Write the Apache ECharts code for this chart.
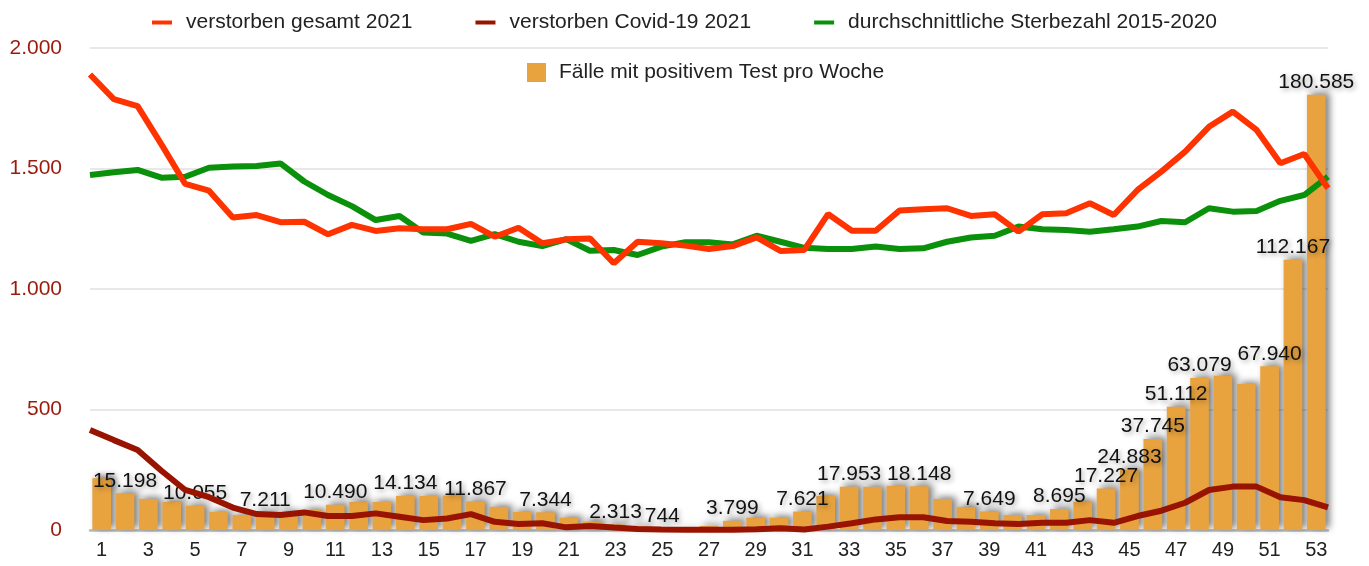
<!DOCTYPE html>
<html>
<head>
<meta charset="utf-8">
<script src="https://cdn.jsdelivr.net/npm/echarts@6/dist/echarts.min.js"></script>
<style>
  html, body { margin: 0; padding: 0; background: #fff; }
  #main { width: 1369px; height: 566px; }
</style>
</head>
<body>
<div id="main"></div>
<script>
// Kalenderwochen 1..53
var weeks = [];
for (var w = 1; w <= 53; w++) weeks.push(String(w));

// verstorben gesamt 2021
var deathsTotal = [1890, 1788, 1759, 1600, 1436, 1408, 1297, 1307, 1277, 1279,
  1227, 1266, 1241, 1252, 1248, 1248, 1270, 1217, 1254, 1190,
  1206, 1210, 1107, 1196, 1190, 1180, 1166, 1178, 1214, 1158,
  1162, 1311, 1242, 1242, 1326, 1331, 1335, 1303, 1310, 1238,
  1310, 1314, 1356, 1307, 1411, 1487, 1570, 1673, 1736, 1660,
  1522, 1560, 1418];

// verstorben Covid-19 2021
var deathsCovid = [415, 373, 332, 246, 166, 136, 93, 66, 62, 73,
  58, 58, 69, 55, 41, 48, 66, 34, 25, 28,
  11, 17, 10, 4, 2, 1, 1, 1, 3, 7,
  2, 14, 28, 44, 53, 53, 37, 34, 28, 25,
  30, 30, 41, 30, 58, 80, 113, 166, 180, 180,
  136, 124, 94];

// durchschnittliche Sterbezahl 2015-2020
var deathsAvg = [1473, 1484, 1494, 1462, 1466, 1503, 1508, 1510, 1521, 1446,
  1390, 1344, 1286, 1303, 1234, 1230, 1200, 1228, 1196, 1178,
  1207, 1159, 1162, 1141, 1176, 1194, 1194, 1185, 1221, 1196,
  1171, 1166, 1166, 1176, 1166, 1169, 1196, 1214, 1221, 1259,
  1248, 1245, 1238, 1248, 1259, 1282, 1277, 1335, 1321, 1324,
  1366, 1390, 1466];

// Fälle mit positivem Test pro Woche
var cases = [21500, 15198, 12900, 11600, 10055, 7500, 6200, 7211, 7200, 8300,
  10490, 11600, 11600, 14134, 14100, 14300, 11867, 9600, 7500, 7344,
  5100, 3500, 2313, 1500, 744, 450, 1700, 3799, 5100, 5100,
  7621, 14100, 17953, 17900, 18300, 18148, 12900, 9600, 7649, 6200,
  6200, 8695, 11700, 17227, 24883, 37745, 51112, 63079, 64000, 60600,
  67940, 112167, 180585];

// Wochen, deren Balken beschriftet sind
var labeledWeeks = [2, 5, 8, 11, 14, 17, 20, 23, 25, 28, 31, 33, 36, 39, 42, 44, 45, 46, 47, 48, 51, 52, 53];

var yTicks = [0, 500, 1000, 1500, 2000];

function fmtDE(v) {
  return String(Math.round(v)).replace(/\B(?=(\d{3})+(?!\d))/g, ".");
}

var chart = echarts.init(document.getElementById("main"));

var barData = cases.map(function (v, i) {
  return {
    value: v,
    label: { show: labeledWeeks.indexOf(i + 1) >= 0 }
  };
});

var font = "Liberation Sans, Arial, sans-serif";

var option = {
  animation: false,
  backgroundColor: "#fff",
  textStyle: { fontFamily: font },
  legend: [
    {
      data: ["verstorben gesamt 2021", "verstorben Covid-19 2021", "durchschnittliche Sterbezahl 2015-2020"],
      top: 7,
      left: "center",
      icon: "rect",
      itemWidth: 20,
      itemHeight: 4,
      itemGap: 63,
      textStyle: { fontSize: 21, color: "#222", fontFamily: font, padding: [0, 0, 0, 9] }
    },
    {
      data: ["Fälle mit positivem Test pro Woche"],
      top: 57,
      left: 522,
      icon: "rect",
      itemWidth: 19,
      itemHeight: 19,
      textStyle: { fontSize: 21, color: "#222", fontFamily: font, padding: [0, 0, 0, 8] }
    }
  ],
  grid: { left: 90, right: 41, top: 48, bottom: 36, containLabel: false },
  xAxis: [
    {
      type: "category",
      data: weeks,
      boundaryGap: true,
      axisLine: { show: true, lineStyle: { color: "#bbb", width: 2.5 } },
      axisTick: { show: false },
      axisLabel: { interval: 1, color: "#222", fontSize: 20, margin: 10, fontFamily: font },
      splitLine: { show: false }
    },
    {
      type: "category",
      data: weeks,
      boundaryGap: false,
      show: false
    }
  ],
  yAxis: [
    {
      type: "value",
      min: yTicks[0],
      max: yTicks[yTicks.length - 1],
      interval: 500,
      axisLine: { show: false },
      axisTick: { show: false },
      axisLabel: {
        color: "#9a1b0c",
        fontSize: 21,
        margin: 28,
        fontFamily: font,
        formatter: function (v) { return fmtDE(v); }
      },
      splitLine: { lineStyle: { color: "#e0e0e0", width: 1.5 } }
    },
    {
      type: "value",
      min: 0,
      max: 200000,
      show: false
    }
  ],
  series: [
    {
      name: "Fälle mit positivem Test pro Woche",
      type: "bar",
      xAxisIndex: 0,
      yAxisIndex: 1,
      data: barData,
      barCategoryGap: "20%",
      itemStyle: {
        color: "#e8a33f",
        shadowColor: "rgba(0,0,0,0.5)",
        shadowBlur: 7,
        shadowOffsetX: 4,
        shadowOffsetY: -2
      },
      label: {
        position: "top",
        distance: 2,
        color: "#111",
        fontSize: 21,
        fontFamily: font,
        textShadowColor: "rgba(0,0,0,0.35)",
        textShadowBlur: 5,
        textShadowOffsetX: 2,
        textShadowOffsetY: 2,
        formatter: function (p) { return fmtDE(p.value); }
      }
    },
    {
      name: "durchschnittliche Sterbezahl 2015-2020",
      type: "line",
      xAxisIndex: 1,
      yAxisIndex: 0,
      data: deathsAvg,
      symbol: "none",
      lineStyle: { color: "#0a900a", width: 6 },
      itemStyle: { color: "#0a900a" }
    },
    {
      name: "verstorben Covid-19 2021",
      type: "line",
      xAxisIndex: 1,
      yAxisIndex: 0,
      data: deathsCovid,
      symbol: "none",
      lineStyle: { color: "#991400", width: 6 },
      itemStyle: { color: "#991400" }
    },
    {
      name: "verstorben gesamt 2021",
      type: "line",
      xAxisIndex: 1,
      yAxisIndex: 0,
      data: deathsTotal,
      symbol: "none",
      lineStyle: { color: "#ff3300", width: 6 },
      itemStyle: { color: "#ff3300" }
    }
  ]
};

chart.setOption(option);
window.addEventListener("resize", function () {
  chart.resize();
});
</script>
</body>
</html>
